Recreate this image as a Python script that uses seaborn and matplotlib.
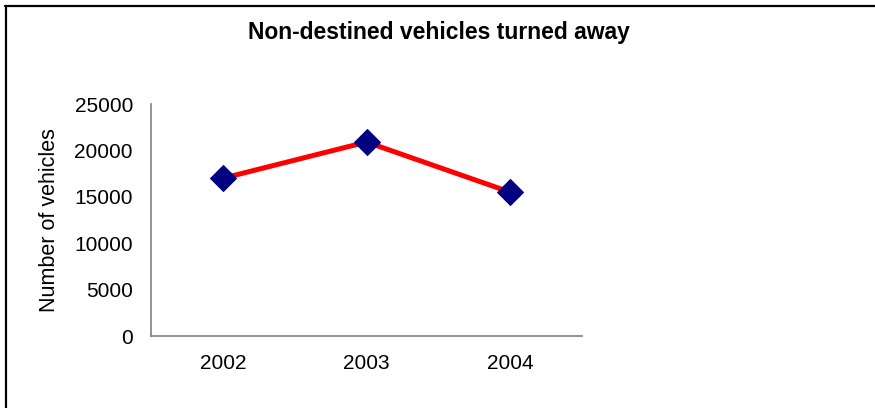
import pandas as pd
import matplotlib
matplotlib.use("Agg")
import matplotlib.pyplot as plt
import seaborn as sns
from matplotlib.lines import Line2D

# data
years = ["2002", "2003", "2004"]
vehicles = [17000, 20900, 15500]

df = pd.DataFrame({"Year": years, "Vehicles": vehicles})

sns.set_style("white")
plt.rcParams['font.family'] = ['Liberation Sans', 'DejaVu Sans']
plt.rcParams['text.color'] = 'black'
plt.rcParams['axes.labelcolor'] = 'black'
plt.rcParams['xtick.color'] = 'black'
plt.rcParams['ytick.color'] = 'black'

fig = plt.figure(figsize=(8.75, 4.08), dpi=100)
ax = fig.add_axes([151/875, 72/408, (582-151)/875, (336-104)/408])

sns.lineplot(data=df, x="Year", y="Vehicles", ax=ax, sort=False,
             color="#FF0000", linewidth=3.6, marker="D", markersize=13,
             markerfacecolor="#000080", markeredgecolor="#000080")

ax.set_xlim(-0.5, 2.5)
ax.set_ylim(0, 25000)
ax.set_yticks([0, 5000, 10000, 15000, 20000, 25000])
ax.tick_params(axis="y", length=0, pad=13, labelsize=15)
ax.tick_params(axis="x", length=0, pad=13, labelsize=15)
ax.set_xlabel("")
ax.set_ylabel("Number of vehicles", fontsize=15.5)
ax.yaxis.set_label_coords((60 - 151) / 431, 0.5)

for s in ["top", "right"]:
    ax.spines[s].set_visible(False)
for s in ["left", "bottom"]:
    ax.spines[s].set_color("#808080")
    ax.spines[s].set_linewidth(1.2)

fig.text(439/875, 1 - 32/408, "Non-destined vehicles turned away",
         ha="center", va="center", fontsize=16.5, fontweight="bold")

# chart border (top and left edges visible)
fig.add_artist(Line2D([5/875, 1], [1 - 5.5/408, 1 - 5.5/408], color="black", linewidth=1.6))
fig.add_artist(Line2D([5.5/875, 5.5/875], [0, 1 - 5.5/408], color="black", linewidth=1.6))

fig.savefig("out.png", dpi=100)
